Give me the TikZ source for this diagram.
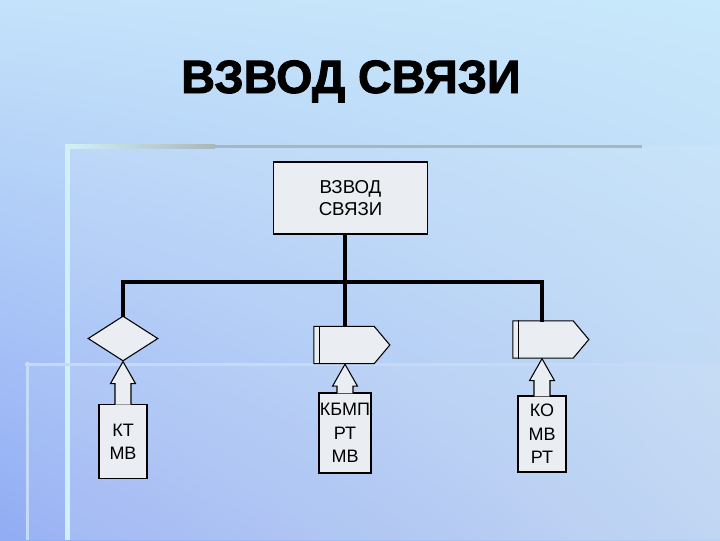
\documentclass[tikz,border=0pt]{standalone}
\usepackage{fontspec}
\setmainfont{Liberation Sans}
\newfontfamily\titlefont[FakeBold=2]{Liberation Sans Bold}
\usetikzlibrary{positioning,calc,shapes.geometric,shapes.symbols,shadings}
\definecolor{boxfill}{RGB}{234,238,243}
\definecolor{skyUL}{RGB}{196,226,250}
\definecolor{skyUR}{RGB}{200,232,251}
\definecolor{skyLL}{RGB}{146,172,244}
\definecolor{skyLR}{RGB}{184,208,242}
\definecolor{rulegray}{RGB}{168,184,186}
\definecolor{rulelight}{RGB}{208,240,248}
\definecolor{rulepale}{RGB}{196,218,246}

\begin{document}
\begin{tikzpicture}[x=0.75pt,y=-0.75pt,
  unitbox/.style={draw,fill=boxfill,line width=0.8pt,inner sep=0pt,align=center,
    font=\fontsize{13.5}{17.5}\selectfont},
  rombbox/.style={diamond,draw,fill=boxfill,line width=0.8pt,inner sep=0pt,
    minimum width=52.5pt,minimum height=33.75pt},
  flagbox/.style={signal,signal to=east,signal pointer angle=100,draw,fill=boxfill,
    line width=0.8pt,inner sep=0pt,minimum width=57pt,minimum height=28pt},
  busline/.style={line width=2.3pt,line cap=rect},
  liftarrow/.style={draw,fill=boxfill,line width=0.8pt,line join=miter}]
  \useasboundingbox (0,0) rectangle (720,540);
  % background and slide rules
  \shade[upper left=skyUL,upper right=skyUR,lower left=skyLL,lower right=skyLR] (0,0) rectangle (720,540);
  \fill[white,opacity=0.08] (67,146) rectangle (720,540);
  \fill[white,opacity=0.07] (27,364) rectangle (720,540);
  \shade[left color=rulelight,right color=rulegray] (67,144.5) rectangle (215,148);
  \fill[rulegray] (215,144.5) rectangle (642,148);
  \fill[rulelight] (65,144) rectangle (70,540);
  \fill[rulepale] (25,362.5) rectangle (720,365.5);
  \fill[rulepale] (25.5,362) rectangle (29,540);

  % title
  \node[font=\titlefont\fontsize{35}{40}\selectfont,anchor=base] (title) at (351,93) {ВЗВОД СВЯЗИ};

  % boxes
  \node[unitbox,minimum width=116pt,minimum height=54pt,font=\fontsize{14}{16.5}\selectfont] (platoon) at (350.5,198) {ВЗВОД\\СВЯЗИ};
  \node[rombbox] (kt) at (123,338.5) {};
  \node[flagbox] (kbmp) at (344,345) {};
  \node[flagbox] (ko) at (543,339.5) {};
  \draw[line width=0.8pt] ($(kbmp.north west)+(6,0)$) -- ($(kbmp.south west)+(6,0)$);
  \draw[line width=0.8pt] ($(ko.north west)+(6,0)$) -- ($(ko.south west)+(6,0)$);

  \node[unitbox,minimum width=36pt,minimum height=56pt] (ktcrew) at (123,441.5) {КТ\\МВ};
  \node[unitbox,minimum width=39pt,minimum height=60pt] (kbmpcrew) at (345,433) {КБМП\\РТ\\МВ};
  \node[unitbox,minimum width=36pt,minimum height=57pt] (kocrew) at (542,434) {КО\\МВ\\РТ};

  % bus
  \coordinate (bus) at (0,282);
  \draw[busline] (platoon.south -| kbmpcrew.north) -- (kbmpcrew.north |- kbmp.north);
  \draw[busline] (kt.north |- bus) -- (kocrew.north |- bus);
  \draw[busline] (kt.north |- bus) -- (kt.north);
  \draw[busline] (kocrew.north |- bus) -- (kocrew.north |- ko.north);

  % lift arrows
  \foreach \crew/\unit in {ktcrew/kt,kbmpcrew/kbmp,kocrew/ko}{
    \coordinate (tip) at (\crew.north |- \unit.south);
    \path[liftarrow] ($(\crew.north)+(-8,1)$) -- ($(tip)+(-8,22)$) -- ($(tip)+(-12.5,22)$)
      -- (tip) -- ($(tip)+(12.5,22)$) -- ($(tip)+(8,22)$) -- ($(\crew.north)+(8,1)$);
  }
\end{tikzpicture}
\end{document}
